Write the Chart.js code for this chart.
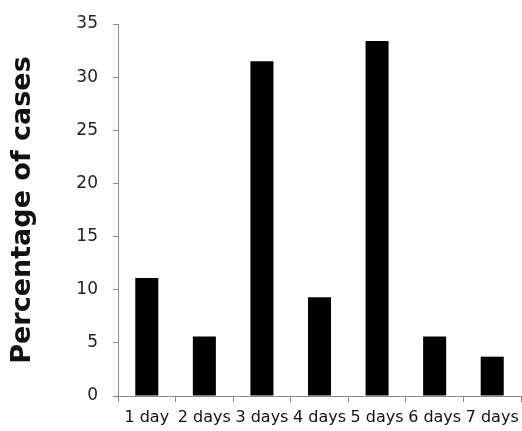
<!DOCTYPE html>
<html>
<head>
<meta charset="utf-8">
<script src="https://cdn.jsdelivr.net/npm/chart.js@4"></script>
<style>
  html, body { margin: 0; padding: 0; background: #fff; }
  #wrap { width: 522px; height: 431px; }
</style>
</head>
<body>
<div id="wrap"><canvas id="chart" width="522" height="431"></canvas></div>
<script>
const categories = ['1 day', '2 days', '3 days', '4 days', '5 days', '6 days', '7 days'];
const percentages = [11.1, 5.6, 31.5, 9.3, 33.4, 5.6, 3.7];
const yTicks = [0, 5, 10, 15, 20, 25, 30, 35];

const axisColor = '#8a8a8a';

new Chart(document.getElementById('chart'), {
    type: 'bar',
    data: {
        labels: categories,
        datasets: [{
            data: percentages,
            backgroundColor: '#000',
            categoryPercentage: 1,
            barPercentage: 0.4
        }]
    },
    options: {
        responsive: false,
        animation: false,
        layout: { padding: { top: 24, right: 1, bottom: 0, left: 0 } },
        plugins: { legend: { display: false }, tooltip: { enabled: false } },
        scales: {
            x: {
                grid: { drawOnChartArea: false, drawTicks: true, tickLength: 6, color: axisColor, offset: true },
                border: { display: true, color: axisColor },
                ticks: { color: '#111', font: { family: 'DejaVu Sans', size: 16 }, padding: 6, maxRotation: 0, autoSkip: false },
                afterFit: s => { s.height = 35; s.paddingLeft = 0; s.paddingRight = 0; }
            },
            y: {
                min: 0,
                max: 35,
                afterBuildTicks: s => { s.ticks = yTicks.map(v => ({ value: v })); },
                grid: { drawOnChartArea: false, drawTicks: true, tickLength: 5, color: axisColor },
                border: { display: true, color: axisColor },
                ticks: { color: '#222', font: { family: 'DejaVu Sans', size: 17 }, padding: 15 },
                title: {
                    display: true,
                    text: 'Percentage of cases',
                    color: '#111',
                    font: { family: 'DejaVu Sans', size: 27, weight: 'bold' },
                    padding: { top: 7, bottom: 0 }
                },
                afterFit: s => { s.width = 118; s.paddingTop = 0; s.paddingBottom = 0; }
            }
        }
    }
});
</script>
</body>
</html>
